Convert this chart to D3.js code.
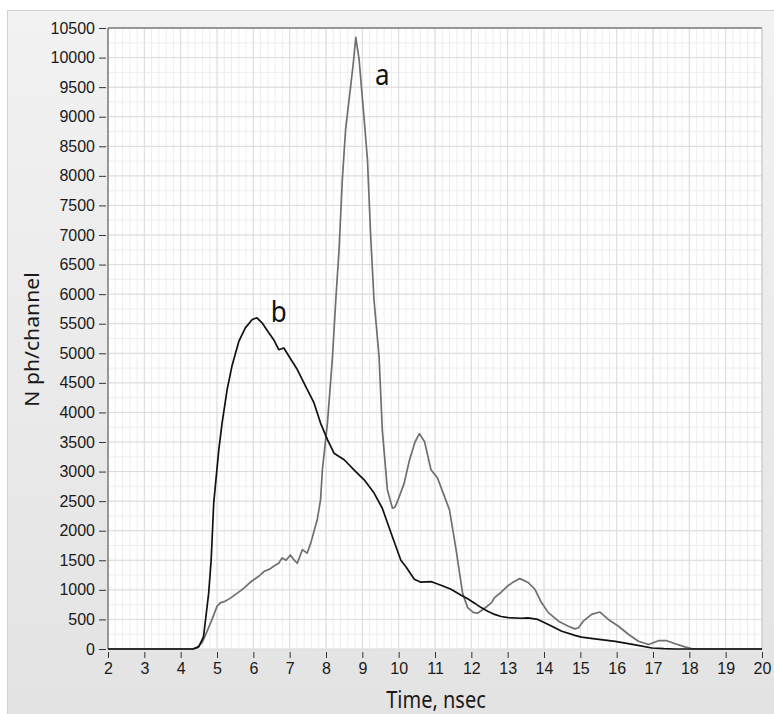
<!DOCTYPE html>
<html>
<head>
<meta charset="utf-8">
<script src="https://cdn.jsdelivr.net/npm/d3@7"></script>
<style>
  html, body { margin: 0; padding: 0; background: #ffffff; }
  svg { display: block; font-family: 'Noto Sans', sans-serif; }
  .tick text { fill: #1a1a1a; font-size: 16px; }
  .tick line { stroke: #333; }
  .grid_minor line { stroke: #eeeeee; }
  .grid_major line { stroke: #dcdcdc; }
</style>
</head>
<body>
<script>
(function() {
    'use strict';

    // curve a (grey): time in nsec, photons per channel
    var time_a = [2, 4.3, 4.45, 4.6, 4.72, 4.85, 5.0, 5.09, 5.2, 5.37, 5.55,
        5.74, 5.9, 6.01, 6.15, 6.29, 6.45, 6.56, 6.7, 6.79, 6.9, 7.02, 7.1,
        7.21, 7.35, 7.48, 7.58, 7.67, 7.76, 7.85, 7.9, 8.04, 8.18, 8.27, 8.36,
        8.45, 8.54, 8.68, 8.75, 8.82, 8.91, 9.05, 9.14, 9.23, 9.32, 9.46,
        9.55, 9.69, 9.83, 9.9, 10.0, 10.15, 10.3, 10.45, 10.57, 10.71, 10.89,
        11.07, 11.26, 11.4, 11.58, 11.76, 11.9, 12.05, 12.17, 12.35, 12.55,
        12.64, 12.82, 13.01, 13.15, 13.33, 13.45, 13.56, 13.75, 13.93, 14.12,
        14.4, 14.67, 14.85, 14.95, 15.08, 15.31, 15.54, 15.77, 16.05, 16.33,
        16.6, 16.88, 17.15, 17.38, 17.61, 17.88, 18.06, 18.6, 20];
    var count_a = [0, 0, 20, 120, 290, 480, 720, 780, 800, 860, 940,
        1030, 1120, 1170, 1230, 1310, 1350, 1400, 1450, 1540, 1500, 1590, 1520,
        1450, 1680, 1620, 1790, 1990, 2190, 2520, 3030, 3820, 4950, 5910, 6760,
        7940, 8790, 9520, 9900, 10340, 9975, 8960, 8280, 6980, 5910, 4950,
        3700, 2690, 2380, 2400, 2550, 2800, 3200, 3500, 3640, 3510, 3030,
        2890, 2580, 2350, 1680, 940, 700, 620, 605, 680, 780,
        870, 960, 1070, 1130, 1190, 1160, 1125, 1010, 785, 615,
        470, 385, 340, 360, 470, 585, 625, 500, 385, 245,
        130, 75, 140, 140, 90, 35, 8, 0, 0];

    // curve b (black)
    var time_b = [2, 4.35, 4.5, 4.63, 4.77, 4.84, 4.91, 5.05, 5.14, 5.28,
        5.41, 5.6, 5.78, 5.97, 6.1, 6.24, 6.42, 6.56, 6.7, 6.84, 6.98, 7.21,
        7.44, 7.67, 7.85, 8.04, 8.22, 8.5, 8.77, 9.05, 9.32, 9.55, 9.79,
        10.06, 10.2, 10.43, 10.61, 10.89, 10.98, 11.2, 11.44, 11.72, 11.9,
        12.09, 12.27, 12.45, 12.64, 12.82, 13.01, 13.37, 13.56, 13.83, 14.12,
        14.49, 14.85, 15.03, 15.4, 15.96, 16.51, 16.97, 17.3, 17.6, 20];
    var count_b = [0, 0, 40, 210, 940, 1510, 2470, 3370, 3820, 4390,
        4780, 5200, 5430, 5570, 5600, 5515, 5350, 5230, 5060, 5090, 4950, 4725,
        4440, 4160, 3820, 3540, 3310, 3200, 3030, 2860, 2640, 2380, 1960,
        1500, 1390, 1180, 1130, 1140, 1120, 1070, 1010, 910, 850,
        775, 700, 640, 585, 550, 530, 520, 525, 500, 415,
        300, 230, 200, 170, 130, 70, 17, 5, 0, 0];

    var x_ticks = d3.range(2, 21, 1);
    var y_ticks = d3.range(0, 10501, 500);
    var curve_labels = [
        {text: 'a', t: 9.55, v: 9530},
        {text: 'b', t: 6.7, v: 5530}
    ];

    var width = 774, height = 714;
    var padding = {top: 28, right: 12, bottom: 65, left: 108};
    var panel_width = width - padding.left - padding.right;
    var panel_height = height - padding.top - padding.bottom;
    // the original screenshot is a little taller than wide in its glyphs
    var stretch = 1.15;

    var svg = d3.select('body').append('svg')
        .attr('width', width)
        .attr('height', height);

    var grad = svg.append('defs').append('linearGradient')
        .attr('id', 'bg_grad')
        .attr('x1', 0).attr('y1', 0).attr('x2', 0).attr('y2', 1);
    grad.append('stop').attr('offset', '0%').attr('stop-color', '#f2f2f2');
    grad.append('stop').attr('offset', '100%').attr('stop-color', '#e3e3e3');

    svg.append('rect')
        .attr('x', 7.5).attr('y', 10.5)
        .attr('width', width).attr('height', height)
        .attr('fill', 'url(#bg_grad)')
        .attr('stroke', '#d2d2d2');

    var scale_x = d3.scaleLinear()
        .domain([2, 20])
        .range([0, panel_width]);
    var scale_y = d3.scaleLinear()
        .domain([0, 10500])
        .range([panel_height, 0]);

    var plot = svg.append('g')
        .attr('transform', 'translate(' + padding.left + ',' + padding.top + ')');

    plot.append('rect')
        .attr('width', panel_width)
        .attr('height', panel_height)
        .attr('fill', '#ffffff');

    // minor grid
    var minor = plot.append('g').attr('class', 'grid_minor');
    minor.selectAll('line.v')
        .data(d3.range(2, 20.001, 0.2))
        .enter().append('line')
        .attr('class', 'v')
        .attr('x1', function(d) {return scale_x(d);})
        .attr('x2', function(d) {return scale_x(d);})
        .attr('y1', 0).attr('y2', panel_height);
    minor.selectAll('line.h')
        .data(d3.range(0, 10501, 250))
        .enter().append('line')
        .attr('class', 'h')
        .attr('y1', function(d) {return scale_y(d);})
        .attr('y2', function(d) {return scale_y(d);})
        .attr('x1', 0).attr('x2', panel_width);

    // major grid
    var major = plot.append('g').attr('class', 'grid_major');
    major.selectAll('line.v')
        .data(x_ticks)
        .enter().append('line')
        .attr('class', 'v')
        .attr('x1', function(d) {return scale_x(d);})
        .attr('x2', function(d) {return scale_x(d);})
        .attr('y1', 0).attr('y2', panel_height);
    major.selectAll('line.h')
        .data(y_ticks)
        .enter().append('line')
        .attr('class', 'h')
        .attr('y1', function(d) {return scale_y(d);})
        .attr('y2', function(d) {return scale_y(d);})
        .attr('x1', 0).attr('x2', panel_width);

    // border: dark on top/left, light on right
    plot.append('line')
        .attr('x1', 0).attr('x2', panel_width)
        .attr('y1', 0).attr('y2', 0)
        .attr('stroke', '#7c7c7c').attr('stroke-width', 1.5);
    plot.append('line')
        .attr('x1', 0).attr('x2', 0)
        .attr('y1', 0).attr('y2', panel_height)
        .attr('stroke', '#7c7c7c').attr('stroke-width', 1.5);
    plot.append('line')
        .attr('x1', panel_width).attr('x2', panel_width)
        .attr('y1', 0).attr('y2', panel_height)
        .attr('stroke', '#c8c8c8');

    var axis_x = plot.append('g')
        .attr('transform', 'translate(0,' + (panel_height + 3) + ')')
        .call(d3.axisBottom(scale_x)
              .tickValues(x_ticks)
              .tickSize(6)
              .tickPadding(5)
              .tickFormat(d3.format('d')));
    axis_x.select('.domain').remove();

    var axis_y = plot.append('g')
        .attr('transform', 'translate(-2,0)')
        .call(d3.axisLeft(scale_y)
              .tickValues(y_ticks)
              .tickSize(7)
              .tickPadding(4)
              .tickFormat(d3.format('d')));
    axis_y.select('.domain').remove();

    plot.append('text')
        .attr('text-anchor', 'middle')
        .attr('font-size', '20px')
        .attr('fill', '#1a1a1a')
        .attr('transform', 'translate(' + (panel_width / 2 + 1) + ',' +
              (panel_height + 59) + ') scale(1,' + stretch + ')')
        .text('Time, nsec');
    plot.append('text')
        .attr('text-anchor', 'middle')
        .attr('font-size', '20px')
        .attr('fill', '#1a1a1a')
        .attr('transform', 'translate(-69,' + (panel_height / 2 + 1) +
              ') rotate(-90) scale(1.06,1)')
        .text('N ph/channel');

    var line = d3.line()
        .x(function(d) {return scale_x(d[0]);})
        .y(function(d) {return scale_y(d[1]);});

    plot.append('path')
        .attr('d', line(d3.zip(time_a, count_a)))
        .attr('fill', 'none')
        .attr('stroke', '#6f6f6f')
        .attr('stroke-width', 1.7)
        .attr('stroke-linejoin', 'round');
    plot.append('path')
        .attr('d', line(d3.zip(time_b, count_b)))
        .attr('fill', 'none')
        .attr('stroke', '#111111')
        .attr('stroke-width', 1.7)
        .attr('stroke-linejoin', 'round');

    plot.selectAll('text.curve_label')
        .data(curve_labels)
        .enter().append('text')
        .attr('class', 'curve_label')
        .attr('text-anchor', 'middle')
        .attr('font-size', '26px')
        .attr('fill', '#111')
        .attr('transform', function(d) {
            return 'translate(' + scale_x(d.t) + ',' + scale_y(d.v) +
                ') scale(1,' + stretch + ')';
        })
        .text(function(d) {return d.text;});
})();
</script>
</body>
</html>
